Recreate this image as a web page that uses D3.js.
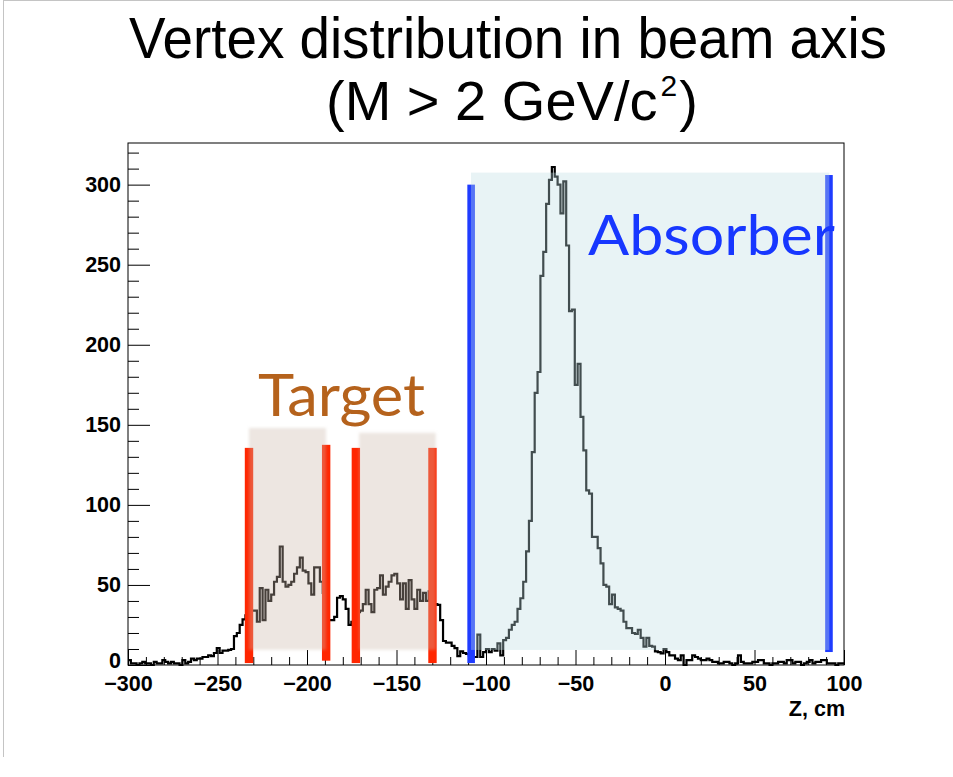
<!DOCTYPE html>
<html><head><meta charset="utf-8">
<script src="https://cdn.jsdelivr.net/npm/d3@7"></script>
<style>body{margin:0;background:#fff} svg{display:block}</style>
</head><body>
<svg id="chart" width="953" height="777"></svg>
<script>
// ---------------- data ----------------
const zRange = [-300, 100];          // histogram range (cm)
const nBins = 250;
const counts = [
  3,1,1,0,1,2,1,1,0,2,1,1,3,2,1,2,1,1,0,3,1,2,
  4,3,4,4,5,5,6,5.5,7.5,10.5,7.5,9,9,9.5,10,18,20,25,28.5,31,33,
  34,34,27,48,28,47,40,44,52,55,74,52,49,50,52,57,61,67,59,58,51,44,61,61,52,45,35,28,
  28,30,42,43,41,35,25,27,30,33,
  34,38,47,38,33,47,48,56,44,49,52,56,57,51,41,51,35,53,41,35,47,40,45,40,46,42,38,
  37.5,28,15,14,14,12,10.5,5.5,8.5,7.5,7,6,5,5,19,5,8,10,8,10,9,13.5,6,
  15.5,17,22,25,27,35,41.7,52,71,90,133,170,183,243,258,288,303,311,305,300,282,302,262,221,222,175,188,155,134,109,107,80,80,73,63.5,
  50,49,38,44,36,35,34,27,23,23,20,19.5,22,17,11.5,17,12,11.5,8.5,8,7.3,10,8,
  6,6,4,3,6,0,3,3,6,5,4,3,3,4,3,2,2,1,1,2,2,1,0,1,
  6,2,1,1,1,2,2,3,3,1,1,0,1,1,2,2,1,3,3,1,2,2,0,1,2,3,1,2,2,3,3,1,1,1,0,1,1
];
const xTicks = [-300,-250,-200,-150,-100,-50,0,50,100];
const yTicks = [0,50,100,150,200,250,300];
const yMax = 326;
// annotated regions (z in cm, counts)
const targetBoxes = [[-232.4,-189.4,148],[-170.9,-128.1,145]];
const targetEdges = [-232.4,-189.3,-172.7,-129.9];
const absorberBox = [-108.4, 91.8, 307.5];
const absorberEdges = [-108.3, 91.6];
const titleLines = ["Vertex distribution in beam axis", "(M > 2 GeV/c", "2", ")"];

// ---------------- drawing ----------------
const svg = d3.select("#chart");
const L = 128, R = 844, T = 143, B = 665;
const x = d3.scaleLinear().domain(zRange).range([L, R]);
const y = d3.scaleLinear().domain([0, yMax]).range([B, T]);

// page border
svg.append("line").attr("x1",3).attr("x2",953).attr("y1",0.5).attr("y2",0.5).attr("stroke","#c4c4c4");
svg.append("line").attr("x1",3.5).attr("x2",3.5).attr("y1",0).attr("y2",757).attr("stroke","#c4c4c4");

const defs = svg.append("defs");
defs.append("filter").attr("id","soft").attr("x","-10%").attr("y","-10%").attr("width","120%").attr("height","120%")
  .append("feGaussianBlur").attr("stdDeviation",1.4);

// histogram
const edges = d3.range(nBins + 1).map(i => zRange[0] + i * (zRange[1] - zRange[0]) / nBins);
const pts = counts.map((c, i) => [edges[i], c]);
pts.push([edges[nBins], counts[nBins - 1]]);
const line = d3.line().x(d => x(d[0])).y(d => y(d[1])).curve(d3.curveStepAfter);
svg.append("path").attr("d", line(pts)).attr("fill","none").attr("stroke","#000").attr("stroke-width",2.2);

// frame
svg.append("rect").attr("x",L).attr("y",T).attr("width",R-L).attr("height",B-T)
  .attr("fill","none").attr("stroke","#000").attr("stroke-width",1);

// axes
const fontAxis = "'Liberation Sans', Arial, sans-serif";
const yAx = svg.append("g").attr("transform",`translate(${L},0)`)
  .call(d3.axisLeft(y).tickValues(yTicks).tickSize(-22).tickPadding(7).tickFormat(d3.format("d")));
const yMin = svg.append("g").attr("transform",`translate(${L},0)`)
  .call(d3.axisLeft(y).tickValues(d3.range(0, yMax, 10).filter(v => v % 50)).tickSize(-11).tickFormat(""));
const xAx = svg.append("g").attr("transform",`translate(0,${B})`)
  .call(d3.axisBottom(x).tickValues(xTicks).tickSize(-15).tickPadding(11).tickFormat(d3.format("d")));
const xMin = svg.append("g").attr("transform",`translate(0,${B})`)
  .call(d3.axisBottom(x).tickValues(d3.range(-300, 101, 10).filter(v => v % 50)).tickSize(-8).tickFormat(""));
[yAx,yMin,xAx,xMin].forEach(g => { g.select(".domain").remove(); g.selectAll("line").attr("stroke","#000"); });
svg.selectAll(".tick text").attr("font-family",fontAxis).attr("font-weight","bold").attr("font-size",21.5).attr("fill","#000");
yAx.selectAll(".tick text").filter(d => d === 0).attr("dy","0.1em");
svg.append("text").attr("x",845).attr("y",716).attr("text-anchor","end")
  .attr("font-family",fontAxis).attr("font-weight","bold").attr("font-size",21.5).text("Z, cm");

// red target edges
targetEdges.forEach((z, i) => {
  svg.append("rect").attr("x", x(z) - 4.2).attr("width", 8.4)
    .attr("y", y(i === 1 ? 137.5 : 135.6)).attr("height", y(i === 1 ? 2.7 : 1.2) - y(i === 1 ? 137.5 : 135.6))
    .attr("fill", "#ff2600");
});
// blue absorber edges
absorberEdges.forEach((z, i) => {
  const top = i === 0 ? 300 : 306, bot = i === 0 ? 1.2 : 8.1;
  svg.append("rect").attr("x", x(z) - 3.8).attr("width", 7.6)
    .attr("y", y(top)).attr("height", y(bot) - y(top)).attr("fill", "#1f3cff");
});

// translucent regions
targetBoxes.forEach(b => {
  svg.append("rect").attr("x", x(b[0])).attr("width", x(b[1]) - x(b[0]))
    .attr("y", y(b[2])).attr("height", y(9.5) - y(b[2]))
    .attr("fill", "rgb(203,183,169)").attr("fill-opacity", 0.35).attr("filter","url(#soft)");
});
svg.append("rect").attr("x", x(absorberBox[0])).attr("width", x(absorberBox[1]) - x(absorberBox[0]))
  .attr("y", y(absorberBox[2])).attr("height", y(9.4) - y(absorberBox[2]))
  .attr("fill", "rgb(189,221,227)").attr("fill-opacity", 0.35);

// labels
svg.append("text").attr("x",258).attr("y",416).attr("font-family","Lato, 'Open Sans', sans-serif")
  .attr("font-size",58).attr("fill","#b5621c").attr("textLength",167).attr("lengthAdjust","spacingAndGlyphs").text("Target");
svg.append("text").attr("x",588).attr("y",255).attr("font-family","Lato, 'Open Sans', sans-serif")
  .attr("font-size",56).attr("fill","#1737ff").attr("textLength",247).attr("lengthAdjust","spacingAndGlyphs").text("Absorber");

// title
const fontTitle = "'Liberation Sans', Arial, sans-serif";
svg.append("text").attr("x",129).attr("y",58).attr("font-family",fontTitle).attr("font-size",58)
  .attr("textLength",758).attr("lengthAdjust","spacingAndGlyphs").text(titleLines[0]);
const t2 = svg.append("text").attr("x",326).attr("y",120)
  .attr("font-family",fontTitle).attr("font-size",56);
t2.append("tspan").text(titleLines[1]);
t2.append("tspan").attr("font-size",30).attr("dy",-24).attr("dx",3).text(titleLines[2]);
t2.append("tspan").attr("dy",24).attr("dx",2).text(titleLines[3]);
</script>
</body></html>
